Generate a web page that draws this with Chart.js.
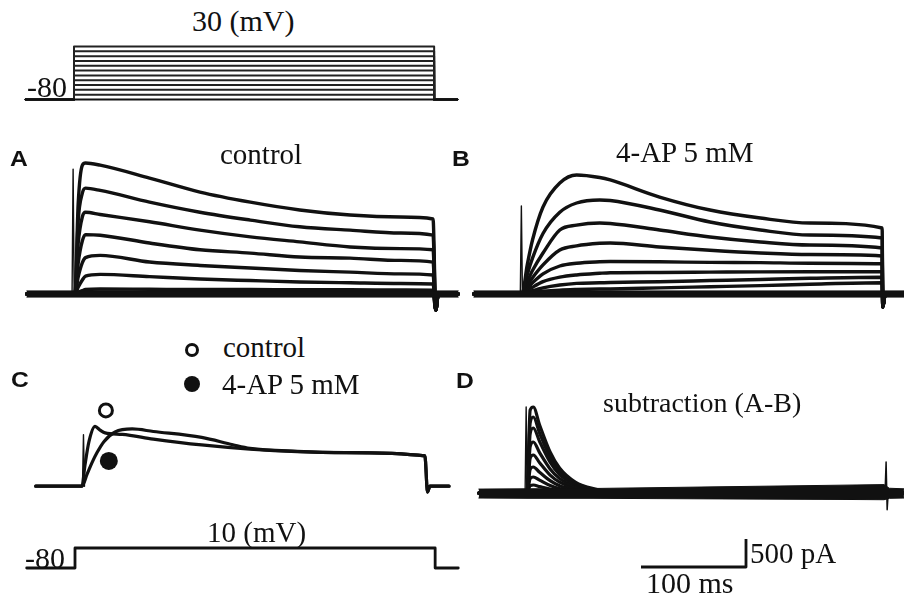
<!DOCTYPE html>
<html>
<head>
<meta charset="utf-8">
<script src="https://cdn.jsdelivr.net/npm/chart.js@4.4.1/dist/chart.umd.min.js"></script>
<style>
  html, body { margin: 0; padding: 0; background: #fff; }
  #figure { position: relative; width: 904px; height: 596px; overflow: hidden; background: #fff; }
  .panel { position: absolute; }
  .lbl { position: absolute; font-family: "Liberation Serif", "Times New Roman", serif; color: #111; white-space: nowrap; line-height: 1; }
  .tag { position: absolute; font-family: "Liberation Sans", Arial, sans-serif; font-weight: bold; color: #111; white-space: nowrap; line-height: 1; transform: scaleX(1.12); transform-origin: left; }
  .dot { position: absolute; border-radius: 50%; box-sizing: border-box; }
</style>
</head>
<body>
<div id="figure"></div>
<script>
// time in ms from step onset, current in pA, voltage in mV
var tPre = -46;
var stepEnd = 343;
var tPost = 365;
var holding = -80;
var stepLevels = [-70, -60, -50, -40, -30, -20, -10, 0, 10, 20, 30];
var singleStep = 10;

// A: control family
var timeA = [0, 3, 7, 10, 24, 71, 119, 167, 214, 262, 310, 341];
var controlA = [
    [0, 1600, 2300, 2340, 2300, 2070, 1820, 1640, 1500, 1410, 1375, 1340],
    [0, 1300, 1800, 1890, 1850, 1640, 1460, 1320, 1200, 1140, 1090, 1050],
    [0, 900, 1380, 1460, 1420, 1290, 1140, 1020, 930, 840, 810, 790],
    [0, 550, 950, 1060, 1050, 910, 790, 730, 660, 640, 600, 570],
    [0, 300, 560, 650, 690, 571, 510, 464, 420, 390, 360, 339],
    [0, 120, 250, 320, 350, 310, 268, 240, 215, 200, 188, 179],
    [0, 30, 60, 80, 90, 85, 80, 80, 75, 75, 72, 70],
    [0, 10, 20, 25, 30, 30, 30, 28, 28, 26, 25, 25]
];
var tailA = -286;
var spikeA = 2230;

// B: 4-AP 5 mM family
var timeB = [0, 5, 10, 20, 36, 52, 74, 84, 131, 179, 227, 274, 343];
var apB = [
    [0, 520, 964, 1554, 1982, 2125, 2080, 2036, 1732, 1500, 1357, 1268, 1179],
    [0, 350, 640, 1080, 1460, 1625, 1679, 1670, 1500, 1286, 1143, 1054, 1000],
    [0, 220, 420, 732, 1143, 1230, 1268, 1260, 1143, 1018, 929, 875, 821],
    [0, 150, 290, 520, 786, 860, 905, 911, 839, 780, 732, 705, 679],
    [0, 100, 200, 360, 500, 550, 575, 580, 575, 565, 560, 550, 540],
    [0, 60, 120, 220, 300, 340, 370, 380, 385, 390, 395, 398, 400],
    [0, 30, 60, 110, 160, 190, 200, 205, 220, 240, 260, 280, 300],
    [0, 15, 30, 50, 70, 80, 88, 90, 110, 130, 150, 175, 200]
];
var tailB = -232;
var spikeB = 1571;

// C: single step to 10 mV
var timeCtrl = [0, 3, 7, 13, 18, 23, 40, 71, 119, 167, 214, 262, 341];
var currentCtrl = [0, 450, 950, 1268, 1190, 1130, 1100, 1000, 875, 786, 732, 714, 643];
var timeAP = [0, 5, 10, 15, 22, 33, 50, 71, 119, 150, 167, 214, 262, 341];
var currentAP = [0, 250, 500, 714, 950, 1150, 1214, 1161, 1036, 880, 804, 740, 714, 643];
var tailC = -125;
var spikeC = 1090;
var markerCtrl = { x: 23.8, y: 1607 };
var markerAP = { x: 26.7, y: 536 };

// D: subtraction (A-B)
var timeD = [0, 3, 6, 12, 22, 31, 46, 65, 89];
var subD = [
    [0, 1480, 1536, 1214, 732, 446, 196, 71, 0],
    [0, 1250, 1357, 1070, 640, 390, 170, 60, 0],
    [0, 1060, 1161, 920, 550, 330, 150, 50, 0],
    [0, 830, 911, 720, 430, 260, 115, 40, 0],
    [0, 620, 679, 540, 320, 195, 85, 30, 0],
    [0, 420, 464, 370, 220, 130, 60, 20, 0],
    [0, 260, 286, 230, 135, 80, 35, 12, 0],
    [0, 130, 143, 115, 70, 40, 18, 6, 0]
];
var spikeD = 1536;
var endArtD = [554, -300];
var noiseTimeD = [-46, 0, 60, 120, 180, 240, 300, 340, 345, 359];
var noiseUpD = [70, 75, 80, 95, 110, 125, 140, 150, 85, 75];
var noiseLowD = [-90, -95, -95, -100, -105, -110, -115, -120, -95, -90];

// baseline noise in A, B
var noiseTime = [-46, 365];
var noiseUp = [55, 55];
var noiseLow = [-55, -55];

// scale bar
var barTime = 100;
var barCurrent = 500;

var ink = '#111';
var pxPerMs = 1.05;
var pxPerPA = 0.056;

var fig = document.getElementById('figure');

// ref: pixel position {x, y} of data point {vx, vy}
const makePanel = (box, ref, pxX, pxY, datasets) => {
    var cv = document.createElement('canvas');
    cv.className = 'panel';
    cv.width = box.w;
    cv.height = box.h;
    cv.style.left = box.l + 'px';
    cv.style.top = box.t + 'px';
    fig.appendChild(cv);
    var xMin = (ref.vx || 0) + (box.l - ref.x) / pxX;
    var yMax = (ref.vy || 0) + (ref.y - box.t) / pxY;
    for (const d of datasets) {
        d.clip = false;
        if (d.borderColor === undefined) d.borderColor = ink;
    }
    return new Chart(cv, {
        type: 'line',
        data: { datasets: datasets },
        options: {
            responsive: false,
            animation: false,
            devicePixelRatio: 1,
            layout: { padding: 0 },
            plugins: { legend: { display: false }, tooltip: { enabled: false } },
            elements: { point: { radius: 0 }, line: { borderJoinStyle: 'round', borderCapStyle: 'round' } },
            scales: {
                x: { type: 'linear', display: false, min: xMin, max: xMin + box.w / pxX },
                y: { type: 'linear', display: false, min: yMax - box.h / pxY, max: yMax }
            }
        }
    });
}

const zip = (xs, ys) => xs.map((x, i) => ({ x: x, y: ys[i] }));

const stepPts = (v) => [
    { x: tPre, y: holding }, { x: 0, y: holding }, { x: 0, y: v },
    { x: stepEnd, y: v }, { x: stepEnd, y: holding }, { x: tPost, y: holding }
];

const tracePts = (times, values, tail) => {
    var pts = [{ x: tPre, y: 0 }].concat(zip(times, values));
    pts.push({ x: stepEnd + 0.6, y: tail }, { x: stepEnd + 3, y: 0 }, { x: tPost, y: 0 });
    return pts;
}

const traceSet = (pts, width) => ({ data: pts, borderWidth: width, cubicInterpolationMode: 'monotone' });

const bandSets = (times, up, low) => [
    { data: zip(times, up), borderWidth: 1, fill: '+1', backgroundColor: ink, tension: 0 },
    { data: zip(times, low), borderWidth: 1, fill: false, tension: 0 }
];

const spikeSet = (t, peak) => ({
    data: [{ x: t - 1, y: 0 }, { x: t, y: peak }, { x: t + 1, y: 0 }], borderWidth: 1.4, tension: 0
});

// voltage protocol, top
var topSets = [{ data: stepPts(holding), borderWidth: 2.2, tension: 0 }];
for (const v of stepLevels) topSets.push({ data: stepPts(v), borderWidth: 2, borderColor: '#222', tension: 0 });
makePanel({ l: 20, t: 40, w: 450, h: 66 }, { x: 74, y: 99.5, vx: 0, vy: holding }, pxPerMs, 53 / 110, topSets);

// A
var setsA = bandSets(noiseTime, noiseUp, noiseLow);
for (const v of controlA) setsA.push(traceSet(tracePts(timeA, v, tailA), 3.4));
setsA.push(spikeSet(-1.8, spikeA));
makePanel({ l: 15, t: 140, w: 450, h: 180 }, { x: 75, y: 294 }, pxPerMs, pxPerPA, setsA);

// B
var setsB = bandSets(noiseTime, noiseUp, noiseLow);
for (const v of apB) setsB.push(traceSet(tracePts(timeB, v, tailB), 3.4));
setsB.push(spikeSet(-0.6, spikeB));
makePanel({ l: 465, t: 140, w: 439, h: 180 }, { x: 522, y: 294 }, pxPerMs, pxPerPA, setsB);

// C
var setsC = [
    traceSet(tracePts(timeCtrl, currentCtrl, tailC), 3.2),
    traceSet(tracePts(timeAP, currentAP, tailC), 3.2),
    spikeSet(1.5, spikeC),
    { data: [markerCtrl], showLine: false, pointRadius: 6.5, pointBorderWidth: 3, pointBackgroundColor: '#fff', pointBorderColor: ink },
    { data: [markerAP], showLine: false, pointRadius: 9, pointBorderWidth: 0, pointBackgroundColor: ink }
];
makePanel({ l: 15, t: 390, w: 450, h: 120 }, { x: 75, y: 493 }, pxPerMs, pxPerPA, setsC);

// C protocol
makePanel({ l: 15, t: 535, w: 455, h: 45 }, { x: 75, y: 568, vx: 0, vy: holding }, pxPerMs, 20 / 90,
    [{ data: stepPts(singleStep), borderWidth: 2.8, tension: 0 }]);

// D
var setsD = bandSets(noiseTimeD, noiseUpD, noiseLowD);
for (const v of subD) setsD.push(traceSet([{ x: tPre, y: 0 }].concat(zip(timeD, v), [{ x: 359, y: 0 }]), 3.2));
setsD.push(spikeSet(-0.8, spikeD));
setsD.push({ data: [{ x: stepEnd - 2, y: 0 }, { x: stepEnd - 1, y: endArtD[0] }, { x: stepEnd, y: endArtD[1] }, { x: stepEnd + 1, y: 0 }], borderWidth: 1.5, tension: 0 });
makePanel({ l: 465, t: 390, w: 439, h: 135 }, { x: 527, y: 493 }, pxPerMs, pxPerPA, setsD);

// scale bar
makePanel({ l: 630, t: 530, w: 130, h: 45 }, { x: 641, y: 567 }, pxPerMs, pxPerPA,
    [{ data: [{ x: 0, y: 0 }, { x: barTime, y: 0 }, { x: barTime, y: barCurrent }], borderWidth: 2.8, tension: 0, borderCapStyle: 'butt' }]);

// text
const addText = (txt, left, baseline, size, cls) => {
    var el = document.createElement('div');
    el.className = cls || 'lbl';
    var k = (cls === 'tag') ? 0.8465 : 0.8375;
    el.textContent = txt;
    el.style.fontSize = size + 'px';
    el.style.left = left + 'px';
    el.style.top = (baseline - k * size) + 'px';
    fig.appendChild(el);
}

const addDot = (cx, cy, d, filled) => {
    var el = document.createElement('span');
    el.className = 'dot';
    el.style.width = d + 'px';
    el.style.height = d + 'px';
    el.style.left = (cx - d / 2) + 'px';
    el.style.top = (cy - d / 2) + 'px';
    el.style.background = filled ? ink : '#fff';
    el.style.border = filled ? 'none' : '3px solid ' + ink;
    fig.appendChild(el);
}

addText('30 (mV)', 192, 31.5, 30);
addText('-80', 27, 97, 30);
addText('A', 10, 167, 22, 'tag');
addText('control', 220, 164, 29);
addText('B', 452, 167, 22, 'tag');
addText('4-AP 5 mM', 616, 162, 29);
addText('C', 11, 388, 22, 'tag');
addText('control', 223, 357, 29);
addText('4-AP 5 mM', 222, 394, 29);
addText('D', 456, 389, 22, 'tag');
addText('subtraction (A-B)', 603, 412, 28);
addText('10 (mV)', 207, 542, 29);
addText('-80', 25, 568, 30);
addText('500 pA', 750, 563, 29);
addText('100 ms', 646, 593, 30);
addDot(192, 350, 14, false);
addDot(192, 384, 16, true);
</script>
</body>
</html>
